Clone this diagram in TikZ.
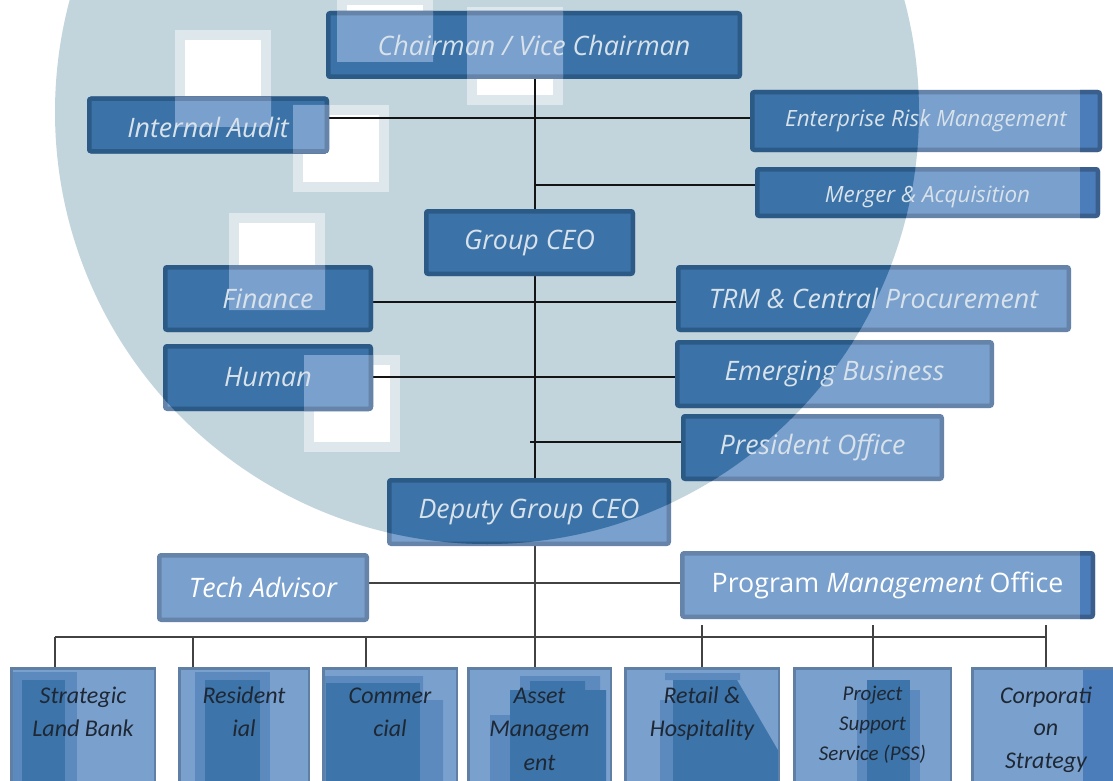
\documentclass[tikz,border=0pt]{standalone}
\usepackage{fontspec}
\newfontfamily\topf{Open Sans}
\newfontfamily\botf{Carlito}
\usetikzlibrary{calc}
\pgfdeclarelayer{bg}
\pgfdeclarelayer{mid}
\pgfsetlayers{bg,mid,main}
\definecolor{circ}{HTML}{C3D5DC}
\definecolor{halo}{HTML}{DEE8EC}
\definecolor{dfill}{HTML}{3B72A7}
\definecolor{dline}{HTML}{2C5A87}
\definecolor{lfill}{HTML}{7AA0CD}
\definecolor{lline}{HTML}{6683A9}
\definecolor{sfill}{HTML}{4A7DB9}
\definecolor{sline}{HTML}{3A5F8C}
\definecolor{bline}{HTML}{607FA5}
\definecolor{patchd}{HTML}{3D74A9}
\definecolor{patchm}{HTML}{5C8ABF}
\definecolor{toptext}{HTML}{D8E2EA}
\definecolor{bottext}{HTML}{1E2835}
\definecolor{connc}{HTML}{141414}
\definecolor{conng}{HTML}{424242}
\begin{document}
\begin{tikzpicture}[x=1pt,y=-1pt,
  tb/.style={rectangle,inner sep=0pt,outer sep=0pt,text=toptext,font=\topf\itshape\fontsize{26.8}{32}\selectfont},
  tbs/.style={tb,font=\topf\itshape\fontsize{22.4}{27}\selectfont},
  lb/.style={tb,text=white},
  bb/.style={rectangle,inner sep=0pt,outer sep=0pt,anchor=north,text=bottext},
  conn/.style={draw=connc,line width=2pt},
  conngray/.style={draw=conng,line width=2pt},
  darkb/.style={fill=dfill,draw=dline,line width=4.5pt,rounded corners=2pt},
  lightb/.style={fill=lfill,draw=lline,line width=4.5pt,rounded corners=2pt},
  stripb/.style={fill=sfill,draw=sline,line width=4.5pt,rounded corners=2pt},
  bfillb/.style={fill=lfill},
  bdrawb/.style={draw=bline,line width=2.5pt}
]
\useasboundingbox (0,0) rectangle (1113,781);

% ---------- nodes (text) ----------
\node[tb,minimum width=416pt,minimum height=68pt] (chair) at (534,45) {Chairman / Vice Chairman};
\node[tb,minimum width=242pt,minimum height=57pt] (ia) at (208,125) {\rule{0pt}{26pt}Internal Audit};
\node[tbs,minimum width=352pt,minimum height=62pt] (erm) at (926,121) {Enterprise Risk Management};
\node[tbs,minimum width=345pt,minimum height=51pt] (ma) at (927.5,192.5) {\rule{0pt}{25pt}Merger \& Acquisition};
\node[tb,minimum width=211pt,minimum height=67pt] (gceo) at (529.5,242.5) {Group CEO};
\node[tb,minimum width=210pt,minimum height=67pt] (fin) at (268,298.5) {Finance};
\node[tb,minimum width=395pt,minimum height=67pt] (trm) at (873.5,298.5) {TRM \& Central Procurement};
\node[tb,minimum width=210pt,minimum height=67pt] (hum) at (268,377.5) {Human};
\node[tb,minimum width=319pt,minimum height=68pt] (eb) at (834.5,374) {Emerging Business};
\node[tb,minimum width=263pt,minimum height=67pt] (pres) at (812.5,447.5) {President Office};
\node[tb,minimum width=284pt,minimum height=68pt] (dep) at (529,512) {Deputy Group CEO};
\node[lb,minimum width=212pt,minimum height=69pt] (tech) at (263,587.5) {Tech Advisor};
\node[lb,minimum width=415pt,minimum height=68pt] (pmo) at (887.5,585) {\upshape Program \itshape Management\upshape\ Office};

\node[bb] (b1) at (83,667) {\parbox[t][130pt][t]{146pt}{\centering\botf\itshape\fontsize{24}{33}\selectfont\rule{0pt}{36pt}Strategic\\Land Bank}};
\node[bb] (b2) at (244,667) {\parbox[t][130pt][t]{132pt}{\centering\botf\itshape\fontsize{24}{33}\selectfont\rule{0pt}{36pt}Resident\\ial}};
\node[bb] (b3) at (390,667) {\parbox[t][130pt][t]{136pt}{\centering\botf\itshape\fontsize{24}{33}\selectfont\rule{0pt}{36pt}Commer\\cial}};
\node[bb] (b4) at (539.5,667) {\parbox[t][130pt][t]{145pt}{\centering\botf\itshape\fontsize{24}{33.5}\selectfont\rule{0pt}{36pt}Asset\\Managem\\ent}};
\node[bb] (b5) at (702,667) {\parbox[t][130pt][t]{156pt}{\centering\botf\itshape\fontsize{24}{33}\selectfont\rule{0pt}{36pt}Retail \&\\Hospitality}};
\node[bb] (b6) at (872.5,667) {\parbox[t][130pt][t]{159pt}{\centering\botf\itshape\fontsize{21}{30}\selectfont\rule{0pt}{33pt}Project\\Support\\Service (PSS)}};
\node[bb] (b7) at (1046,667) {\parbox[t][130pt][t]{150pt}{\centering\botf\itshape\fontsize{24}{32.5}\selectfont\rule{0pt}{36pt}Corporati\\on\\Strategy}};

% ---------- helper coordinates ----------
\coordinate (l1) at (535,118);
\coordinate (j2) at (535,185);
\coordinate (l3) at (535,302);
\coordinate (l4) at (535,377);
\coordinate (j5) at (530,442);
\coordinate (l6) at (535,583);
\coordinate (bus) at (535,637);
\coordinate (d1) at ([xshift=45pt]b1.north west);
\coordinate (d2) at ([xshift=15pt]b2.north west);
\coordinate (d3) at ([xshift=44pt]b3.north west);
\coordinate (pmoend) at ([xshift=10pt]pmo.west);
\coordinate (p5) at ($(pmo.south -| b5.north)+(0,6)$);
\coordinate (p6) at ($(pmo.south -| b6.north)+(0,6)$);
\coordinate (p7) at ($(pmo.south -| b7.north)+(0,6)$);

% ---------- background ----------
\begin{pgfonlayer}{bg}
\fill[white] (0,0) rectangle (1113,781);
\fill[circ] (487,112) circle[radius=432pt];
\foreach \xa/\ya/\xb/\yb in {175/30/271/127, 293/105/389/192, 229/213/325/310, 304/355/400/452, 337/-5/433/62, 467/7/563/105}{
  \fill[halo] (\xa,\ya) rectangle (\xb,\yb);
  \fill[white] (\xa+10,\ya+10) rectangle (\xb-10,\yb-10);
}
\end{pgfonlayer}

% ---------- connectors and boxes ----------
\begin{pgfonlayer}{mid}
\draw[conn] (chair.south -| l1) -- (dep.north -| l1);
\draw[conn] (ia.east |- l1) -- (erm.west |- l1);
\draw[conn] (j2) -- (ma.west |- j2);
\draw[conn] (fin.east |- l3) -- (trm.west |- l3);
\draw[conn] (hum.east |- l4) -- (eb.west |- l4);
\draw[conn] (j5) -- (pres.west |- j5);
\draw[conngray] (dep.south -| l1) -- (b4.north -| l1);
\draw[conngray] (tech.east |- l6) -- (pmoend |- l6);
\draw[conngray] (d1 |- bus) -- (b7.north |- bus);
\draw[conngray] (d1 |- bus) -- (d1);
\draw[conngray] (d2 |- bus) -- (d2);
\draw[conngray] (d3 |- bus) -- (d3);
\draw[conngray] (p5) -- (b5.north);
\draw[conngray] (p6) -- (b6.north);
\draw[conngray] (p7) -- (b7.north);

\foreach \n in {chair,ia,erm,ma,gceo,fin,trm,hum,eb,pres,dep,tech,pmo}
  \path[lightb] ([shift={(2.25pt,2.25pt)}]\n.south west) rectangle ([shift={(-2.25pt,-2.25pt)}]\n.north east);
\begin{scope}
  \clip (487,112) circle[radius=432pt];
  \foreach \n in {chair,ia,erm,ma,gceo,fin,trm,hum,eb,pres,dep}
    \path[darkb] ([shift={(2.25pt,2.25pt)}]\n.south west) rectangle ([shift={(-2.25pt,-2.25pt)}]\n.north east);
  \clip (175,30) rectangle (271,127) (293,105) rectangle (389,192) (229,213) rectangle (325,310)
        (304,355) rectangle (400,452) (337,-5) rectangle (433,62) (467,7) rectangle (563,105);
  \foreach \n in {chair,ia,fin,hum}
    \path[lightb] ([shift={(2.25pt,2.25pt)}]\n.south west) rectangle ([shift={(-2.25pt,-2.25pt)}]\n.north east);
\end{scope}
\begin{scope}
  \clip (1080,0) rectangle (1200,781);
  \foreach \n in {erm,ma,pmo}
    \path[stripb] ([shift={(2.25pt,2.25pt)}]\n.south west) rectangle ([shift={(-2.25pt,-2.25pt)}]\n.north east);
\end{scope}

% bottom boxes
\foreach \n in {b1,b2,b3,b4,b5,b6,b7}
  \path[bfillb] (\n.south west) rectangle (\n.north east);
\fill[patchm] (12,672) rectangle (77,800);
\fill[patchd] (22,680) rectangle (65,800);
\fill[patchm] (195,672) rectangle (270,800);
\fill[patchd] (205,680) rectangle (260,800);
\fill[patchm] (324,676) rectangle (423,800) (423,700) rectangle (443,800);
\fill[patchd] (326,683) rectangle (420,800);
\fill[patchm] (490,715) rectangle (510,800) (520,676) rectangle (600,690);
\fill[patchd] (510,690) rectangle (606,800) (530,681) rectangle (585,690);
\fill[patchm] (660,700) rectangle (673,800) (665,673) rectangle (740,680);
\fill[patchd] (673,680) -- (737,680) -- (779,752) -- (779,800) -- (673,800) -- cycle;
\fill[patchm] (857,690) rectangle (920,800);
\fill[patchd] (867,680) rectangle (910,800);
\fill[sfill] (1083,668) rectangle (1125,800);
\foreach \n in {b1,b2,b3,b4,b5,b6,b7}
  \path[bdrawb] ([shift={(1.25pt,1.25pt)}]\n.south west) rectangle ([shift={(-1.25pt,-1.25pt)}]\n.north east);
\end{pgfonlayer}
\end{tikzpicture}
\end{document}
